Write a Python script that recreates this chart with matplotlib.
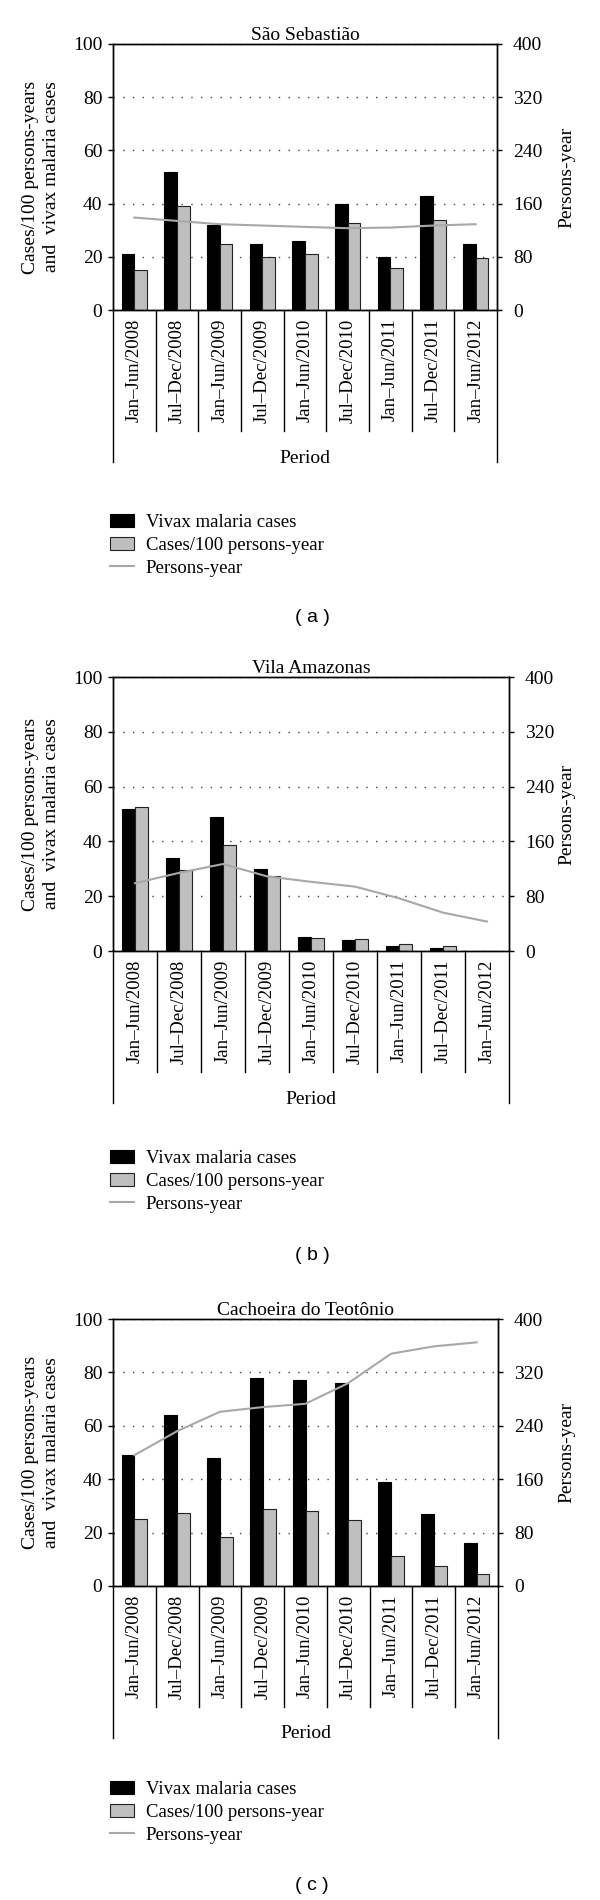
import matplotlib.pyplot as plt
import numpy as np

plt.rcParams['font.family'] = ['Liberation Serif', 'DejaVu Serif']

periods = ["Jan–Jun/2008", "Jul–Dec/2008", "Jan–Jun/2009", "Jul–Dec/2009",
           "Jan–Jun/2010", "Jul–Dec/2010", "Jan–Jun/2011", "Jul–Dec/2011",
           "Jan–Jun/2012"]

# São Sebastião
sao_cases = [21, 52, 32, 25, 26, 40, 20, 43, 25]
sao_rate = [15.0, 39.2, 25.0, 19.8, 20.9, 32.7, 15.9, 33.8, 19.4]
sao_py = [139, 134, 129, 127, 125, 123, 124, 127, 129]

# Vila Amazonas
vila_cases = [52, 34, 49, 30, 5, 4, 2, 1, 0]
vila_rate = [52.5, 29.7, 38.7, 27.3, 4.9, 4.3, 2.4, 1.7, 0]
vila_py = [99, 114, 127, 109, 101, 94, 77, 56, 43]

# Cachoeira do Teotônio
cach_cases = [49, 64, 48, 78, 77, 76, 39, 27, 16]
cach_rate = [25.0, 27.3, 18.3, 29.0, 28.1, 24.9, 11.2, 7.5, 4.4]
cach_py = [196, 232, 261, 268, 273, 304, 348, 359, 365]

W, H = 600, 1900
fig = plt.figure(figsize=(W / 100, H / 100), dpi=100)

# (title, cases, rate, persons-year, left, right, top, zero, legend top, panel label y, letter)
panels = [
    ("São Sebastião", sao_cases, sao_rate, sao_py, 113, 497, 44, 310, 514, 617, "a"),
    ("Vila Amazonas", vila_cases, vila_rate, vila_py, 113, 509, 677, 951, 1150, 1255, "b"),
    ("Cachoeira do Teotônio", cach_cases, cach_rate, cach_py, 113, 498, 1319, 1586, 1781, 1885, "c"),
]

x = np.arange(len(periods))
bw = 0.3

for title, cases, rate, py, l, r, top, zero, leg_y, lab_y, letter in panels:
    hpx = zero - top
    ax = fig.add_axes([l / W, 1 - zero / H, (r - l) / W, hpx / H])
    ax.set_axisbelow(True)

    b1 = ax.bar(x - bw / 2, cases, width=bw, color='black', edgecolor='black', linewidth=0.8,
                label='Vivax malaria cases')
    b2 = ax.bar(x + bw / 2, rate, width=bw, color='#bfbfbf', edgecolor='#222222', linewidth=0.8,
                label='Cases/100 persons-year')

    ax.set_xlim(-0.5, 8.5)
    ax.set_ylim(0, 100)
    ax.set_yticks(np.arange(0, 101, 20))
    ax.grid(axis='y', linestyle=(0, (1, 6)), color='#444444', linewidth=1.0)
    ax.tick_params(axis='y', direction='out', length=3.6, width=1, labelsize=14, pad=4)
    ax.set_xticks(x)
    ax.set_xticklabels(periods, rotation=90, fontsize=13.5)
    ax.tick_params(axis='x', length=0, pad=6)
    for s in ax.spines.values():
        s.set_linewidth(1.0)

    ax2 = ax.twinx()
    ln, = ax2.plot(x, py, color='#a8a8a8', linewidth=1.5, label='Persons-year')
    ax2.set_ylim(0, 400)
    ax2.set_yticks(np.arange(0, 401, 80))
    ax2.tick_params(axis='y', direction='out', length=3.6, width=1, labelsize=14, pad=8)
    for s in ax2.spines.values():
        s.set_linewidth(1.0)

    # category separators below the axis
    tr = ax.get_xaxis_transform()
    sep = 121 / hpx
    outer = 152 / hpx
    for b in np.arange(0.5, 8.5):
        ax.plot([b, b], [0, -sep], transform=tr, color='black', lw=1.0, clip_on=False)
    for b in [-0.5, 8.5]:
        ax.plot([b, b], [0, -outer], transform=tr, color='black', lw=1.0, clip_on=False)
    ax.text(4, -148 / hpx, 'Period', transform=tr, ha='center', va='center', fontsize=14)

    ax.set_title(title, fontsize=14, pad=3)

    yc = 1 - (top + zero) / 2 / H
    fig.text(41 / W, yc, "Cases/100 persons-years\nand  vivax malaria cases",
             rotation=90, ha='center', va='center', fontsize=14, linespacing=1.3)
    fig.text(567 / W, yc, "Persons-year", rotation=90, ha='center', va='center', fontsize=14)

    fig.legend(handles=[b1, b2, ln], loc='upper left',
               bbox_to_anchor=(110 / W, 1 - leg_y / H), frameon=False, fontsize=13.5,
               borderpad=0, borderaxespad=0, handlelength=1.3, handletextpad=0.6,
               labelspacing=0.3)

    fig.text(0.52, 1 - lab_y / H, "( %s )" % letter, ha='center', va='center',
             fontsize=14, family=['Liberation Sans', 'DejaVu Sans'])

plt.savefig('out.png', dpi=100)
